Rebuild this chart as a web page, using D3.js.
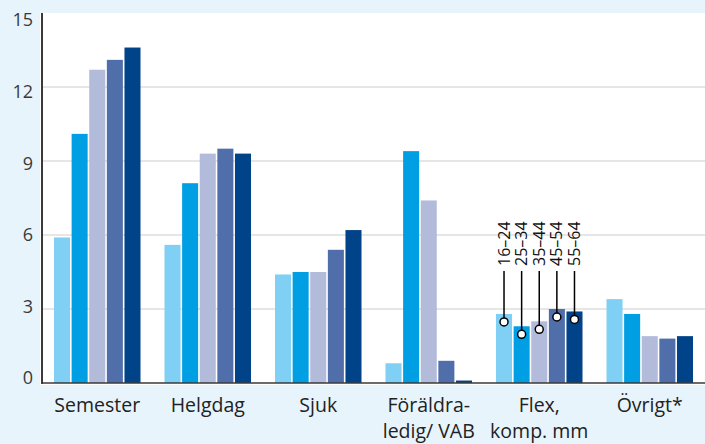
<!DOCTYPE html>
<html>
<head>
<meta charset="utf-8">
<script src="https://cdn.jsdelivr.net/npm/d3@7"></script>
<style>
  body { margin: 0; background: #e8f4fc; }
  svg { display: block; }
</style>
</head>
<body>
<svg id="chart" width="705" height="444"></svg>
<script>
const categories = [["Semester"], ["Helgdag"], ["Sjuk"], ["Föräldra-", "ledig/ VAB"], ["Flex,", "komp. mm"], ["Övrigt*"]];
const ageGroups = ["16–24", "25–34", "35–44", "45–54", "55–64"];
const values = [
    [5.9, 10.1, 12.7, 13.1, 13.6],
    [5.6, 8.1, 9.3, 9.5, 9.3],
    [4.4, 4.5, 4.5, 5.4, 6.2],
    [0.8, 9.4, 7.4, 0.9, 0.1],
    [2.8, 2.3, 2.5, 3.0, 2.9],
    [3.4, 2.8, 1.9, 1.8, 1.9]
];
const yTicks = [0, 3, 6, 9, 12, 15];
const colors = ["#80cff4", "#009fe3", "#b3bbdb", "#506ea9", "#004389"];
const labelledGroup = 4;

const svg = d3.select("#chart");
const margin = {left: 42, right: 0, top: 13, bottom: 61};
const width = 705, height = 444;

const x = d3.scaleBand()
    .domain(d3.range(categories.length))
    .range([margin.left, width - margin.right]);
const xInner = d3.scaleBand()
    .domain(d3.range(ageGroups.length))
    .range([12, x.bandwidth() - 12])
    .paddingInner(0.09);
const y = d3.scaleLinear()
    .domain([0, 15])
    .range([height - margin.bottom, margin.top]);
// tick labels in the original sit slightly off the gridlines
const yLabel = d3.scaleLinear()
    .domain([0, 15])
    .range([378, 20]);

// white plot area
svg.append("rect")
    .attr("x", 40)
    .attr("y", margin.top)
    .attr("width", width - 40)
    .attr("height", y(0) - margin.top + 2)
    .attr("fill", "white");

// gridlines
svg.selectAll(".grid")
    .data(yTicks.filter(d => d > 0 && d < 15))
    .enter()
    .append("line")
    .attr("x1", margin.left)
    .attr("x2", width)
    .attr("y1", d => y(d))
    .attr("y2", d => y(d))
    .attr("stroke", "#dedede")
    .attr("stroke-width", 1.5);

// tick labels
svg.selectAll(".ytick")
    .data(yTicks)
    .enter()
    .append("text")
    .attr("x", 33)
    .attr("y", d => yLabel(d))
    .attr("dy", "0.36em")
    .attr("text-anchor", "end")
    .attr("font-family", "Open Sans, sans-serif")
    .attr("font-size", 18)
    .attr("fill", "#3a3a3a")
    .text(d => d);

// bars
const groups = svg.selectAll(".group")
    .data(values)
    .enter()
    .append("g")
    .attr("transform", (d, i) => `translate(${x(i)},0)`);

groups.selectAll("rect")
    .data(d => d)
    .enter()
    .append("rect")
    .attr("x", (d, j) => xInner(j))
    .attr("width", xInner.bandwidth())
    .attr("y", d => y(d))
    .attr("height", d => y(0) - y(d))
    .attr("fill", (d, j) => colors[j]);

// age group labels on the Flex group
const ann = svg.append("g")
    .attr("transform", `translate(${x(labelledGroup)},0)`);
values[labelledGroup].forEach((v, j) => {
    const cx = xInner(j) + xInner.bandwidth() / 2;
    const cy = y(v) + 8;
    ann.append("line")
        .attr("x1", cx).attr("x2", cx)
        .attr("y1", 271).attr("y2", cy)
        .attr("stroke", "black")
        .attr("stroke-width", 1.5);
    ann.append("circle")
        .attr("cx", cx).attr("cy", cy)
        .attr("r", 4)
        .attr("fill", "white")
        .attr("stroke", "black")
        .attr("stroke-width", 1.5);
    ann.append("text")
        .attr("transform", `translate(${cx + 5.5},266) rotate(-90)`)
        .attr("font-family", "Open Sans, sans-serif")
        .attr("font-size", 16)
        .attr("fill", "#111")
        .text(ageGroups[j]);
});

// axes lines
svg.append("line")
    .attr("x1", margin.left).attr("x2", margin.left)
    .attr("y1", margin.top).attr("y2", y(0) + 1)
    .attr("stroke", "#3a3a3a")
    .attr("stroke-width", 2);
svg.append("line")
    .attr("x1", margin.left).attr("x2", width)
    .attr("y1", y(0)).attr("y2", y(0))
    .attr("stroke", "#3a3a3a")
    .attr("stroke-width", 1.5);

// category labels
const catLabels = svg.selectAll(".cat")
    .data(categories)
    .enter()
    .append("text")
    .attr("text-anchor", "middle")
    .attr("font-family", "Open Sans, sans-serif")
    .attr("font-size", 19.5)
    .attr("fill", "#222");
catLabels.selectAll("tspan")
    .data((d, i) => d.map(t => ({t, i})))
    .enter()
    .append("tspan")
    .attr("x", d => x(d.i) + x.bandwidth() / 2)
    .attr("y", (d, k) => 412 + k * 26)
    .text(d => d.t);
</script>
</body>
</html>
